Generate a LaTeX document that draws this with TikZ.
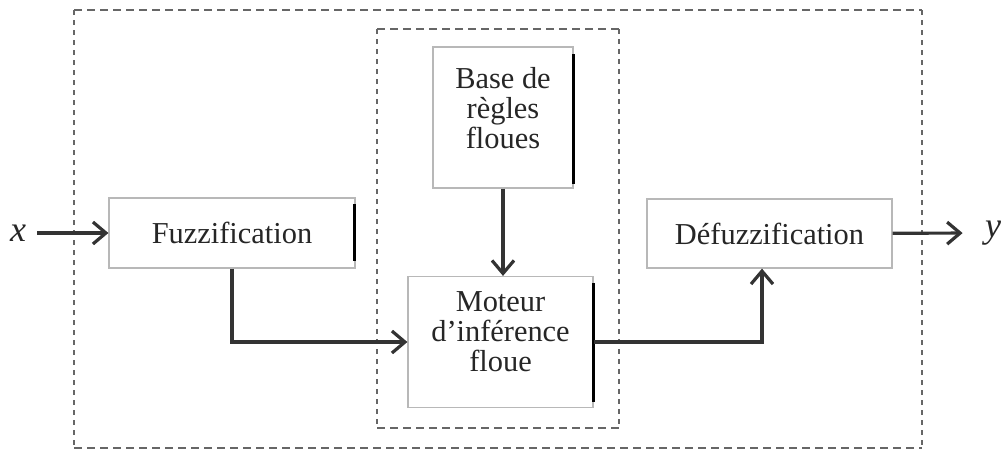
\documentclass[tikz,border=0pt]{standalone}
\usepackage{fontspec}
\setmainfont{Liberation Serif}
\usetikzlibrary{arrows.meta}

\begin{document}
\begin{tikzpicture}[x=0.5pt,y=-0.5pt,
  blk/.style={draw=black!28,line width=0.6pt,fill=white,align=center,text=black!85,
    font=\fontsize{15.2pt}{15pt}\selectfont,inner sep=0pt},
  io/.style={font=\fontsize{18pt}{18pt}\selectfont\itshape,text=black!85,inner sep=0pt},
  link/.style={draw=black!80,line width=1.6pt,-{Straight Barb[length=6.5pt,width=11pt]}},
  sidebar/.style={draw=black,line width=1.5pt},
  hdash/.style={draw=black!60,line width=1.2pt,dash pattern=on 4pt off 2.5pt},
  vdash/.style={draw=black!60,line width=1.2pt,dash pattern=on 2.5pt off 2.5pt}]
        \useasboundingbox (0,0) rectangle (1006,450);
        \draw[hdash] (74,10) -- (922,10) (74,448) -- (922,448);
        \draw[vdash] (74,10) -- (74,448) (922,10) -- (922,448);
        \draw[hdash] (377,29) -- (619,29) (377,428) -- (619,428);
        \draw[vdash] (377,29) -- (377,428) (619,29) -- (619,428);
        \node[blk,minimum width=123pt,minimum height=35pt] (fuzz) at (232,233) {Fuzzification};
        \node[blk,minimum width=122.5pt,minimum height=34.5pt] (defuz) at (769.5,233.5) {Défuzzification};
        \node[blk,minimum width=70pt,minimum height=70.5pt,text depth=10pt] (base) at (503,117.5) {Base de\\règles\\floues};
        \node[blk,minimum width=92.5pt,minimum height=65.5pt,text depth=10pt] (moteur) at (500.5,342) {Moteur\\d’inférence\\floue};
        \node[io] (xin) at (18,233) {x};
        \node[io] (yout) at (993,233) {y};
        \draw[sidebar] ([shift={(-1,7)}]fuzz.north east) -- ([shift={(-1,-8)}]fuzz.south east);
        \draw[sidebar] ([shift={(0,8)}]base.north east) -- ([shift={(0,-5)}]base.south east);
        \draw[sidebar] ([shift={(0,7)}]moteur.north east) -- ([shift={(0,-6)}]moteur.south east);
        \draw[link,shorten <=5.5pt] (xin) -- (fuzz);
        \draw[link,shorten >=11pt] (defuz) -- (yout);
        \draw[link] (fuzz) |- (moteur);
        \draw[link] (base) -- (base.south |- moteur.north);
        \draw[link] (moteur) -| ([xshift=-3.75pt]defuz.south);
      \end{tikzpicture}
\end{document}
